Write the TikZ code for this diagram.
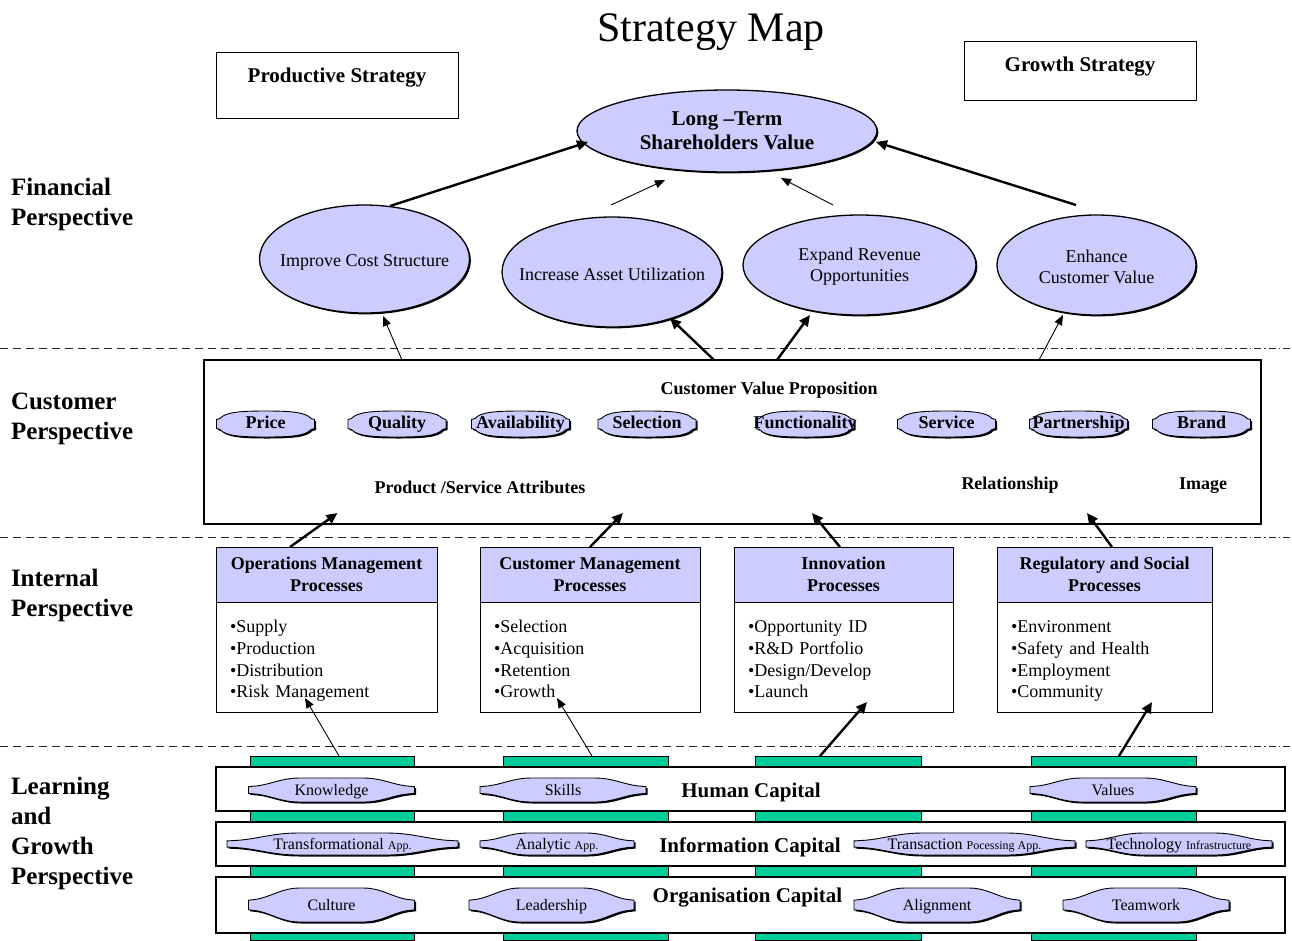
\documentclass[tikz,border=0pt]{standalone}
\usepackage{fontspec}
\setmainfont{Liberation Serif}
\usetikzlibrary{arrows.meta,calc,shapes.geometric,shadows}

\definecolor{lav}{RGB}{204,204,255}
\definecolor{capgreen}{RGB}{0,204,153}

\newcommand\fs[2]{\fontsize{#1}{#2}\selectfont}
\newcommand\topgap{\rule{0pt}{21.5pt}}
\newcommand\botgap{\rule[-5pt]{0pt}{5pt}}

% unit outlines for the small value shapes
\def\rbpath{(-1,-0.35) -- (-1,0.35) -- (-0.93,0.42) .. controls (-0.82,0.92) and (-0.5,1) .. (0,1) .. controls (0.5,1) and (0.82,0.92) .. (0.93,0.42) -- (1,0.35) -- (1,-0.35) -- (0.93,-0.42) .. controls (0.82,-0.92) and (0.5,-1) .. (0,-1) .. controls (-0.5,-1) and (-0.82,-0.92) .. (-0.93,-0.42) -- cycle}
\def\fbpath{(-1,-0.28) -- (-1,0.28) -- (-0.9,0.34) .. controls (-0.72,0.5) and (-0.6,1) .. (-0.38,1) -- (0.38,1) .. controls (0.6,1) and (0.72,0.5) .. (0.9,0.34) -- (1,0.28) -- (1,-0.28) -- (0.9,-0.34) .. controls (0.72,-0.5) and (0.6,-1) .. (0.38,-1) -- (-0.38,-1) .. controls (-0.6,-1) and (-0.72,-0.5) .. (-0.9,-0.34) -- cycle}

% #1 outline, #2 #3 centre, #4 #5 half width and half height
\newcommand\blobshape[5]{%
  \begin{scope}[shift={(#2+1.5,#3+1.5)},xscale=#4,yscale=#5]\fill[black] #1;\end{scope}
  \begin{scope}[shift={(#2,#3)},xscale=#4,yscale=#5]\filldraw[fill=lav,draw=black,line width=0.9pt] #1;\end{scope}}

\begin{document}
\begin{tikzpicture}[x=1pt,y=-1pt,
  every node/.style={inner sep=0pt,outer sep=0pt},
  sect/.style={font=\fs{25}{30}\bfseries,align=left,anchor=north west},
  boldlbl/.style={font=\fs{21}{25}\bfseries,anchor=base},
  midlbl/.style={font=\fs{18}{21}\bfseries,anchor=base},
  finell/.style={ellipse,draw=black,line width=1.3pt,fill=lav,
    drop shadow={shadow xshift=1.4pt,shadow yshift=-1.4pt,opacity=1,fill=black}},
  fintxt/.style={align=center,font=\fs{18}{21}},
  cvtxt/.style={font=\fs{18}{20}\bfseries,anchor=base},
  lgtxt/.style={font=\fs{16}{19},anchor=base},
  headbox/.style={draw,line width=1pt,fill=lav,align=center,minimum height=55,font=\fs{18}{22}\bfseries},
  bodybox/.style={draw,line width=1pt,align=left,minimum height=110,inner xsep=14pt,font=\fs{18}{21.8}},
  gbar/.style={draw=black,line width=0.6pt,fill=capgreen,minimum height=184},
  rowbox/.style={draw,line width=1.1pt,fill=white,minimum width=1069},
  sepdash/.style={line width=0.8pt,black!85,dash pattern=on 8pt off 5pt},
  sepdot/.style={line width=0.8pt,black!85,dash pattern=on 7pt off 3pt on 1.5pt off 3pt},
  thinarr/.style={line width=0.9pt,-{Triangle[length=10pt,width=8pt]}},
  thickarr/.style={line width=2.4pt,-{Triangle[length=11pt,width=10pt]}}]

\useasboundingbox (0,0) rectangle (1292,940);

% perspective separators
\draw[sepdash] (0,348) -- (790,348);  \draw[sepdot] (790,348) -- (1292,348);
\draw[sepdash] (0,537) -- (790,537);  \draw[sepdot] (790,537) -- (1292,537);
\draw[sepdash] (0,746) -- (790,746);  \draw[sepdot] (790,746) -- (1292,746);

% perspective names
\node[sect] (pfin) at (11,178) {Financial\\Perspective};
\node[sect] (pcus) at (11,393) {Customer\\Perspective};
\node[sect] (pint) at (11,569) {Internal\\Perspective};
\node[sect] (plg)  at (11,777) {Learning\\and\\Growth\\Perspective};

% heading and strategy boxes
\node[font=\fs{42}{48},anchor=base] (title) at (711,41) {Strategy Map};
\node[draw,line width=1pt,minimum width=242,minimum height=66] (prodbox) at (337,85) {};
\node[boldlbl] (prodlbl) at (337,82) {Productive Strategy};
\node[draw,line width=1pt,minimum width=232,minimum height=59] (growbox) at (1080,70.5) {};
\node[boldlbl] (growlbl) at (1080,71) {Growth Strategy};

% financial perspective
\node[finell,minimum width=300,minimum height=82,
  label={[fintxt,font=\fs{21}{24}\bfseries]center:Long –Term\\Shareholders Value}] (lt) at (727,131) {};
\node[finell,minimum width=210,minimum height=108,
  label={[fintxt,yshift=-3pt]center:Improve Cost Structure}] (icost) at (364.5,259) {};
\node[finell,minimum width=220,minimum height=110,
  label={[fintxt,yshift=-2pt]center:Increase Asset Utilization}] (iasset) at (612,272) {};
\node[finell,minimum width=233,minimum height=100,
  label={[fintxt,yshift=-2pt]center:Expand Revenue\\Opportunities}] (erev) at (859.5,265) {};
\node[finell,minimum width=199,minimum height=100,
  label={[fintxt,yshift=-2pt]center:Enhance\\Customer Value}] (ecust) at (1096.5,265) {};

\draw[thickarr] ($(icost.center)+(25.5,-53)$) -- ($(lt.center)+(-139,11)$);
\draw[thinarr]  ($(iasset.center)+(-1,-67)$) -- ($(lt.center)+(-62,49)$);
\draw[thinarr]  ($(erev.center)+(-26.5,-60)$) -- ($(lt.center)+(54,47)$);
\draw[thickarr] ($(ecust.center)+(-20.5,-60)$) -- ($(lt.center)+(149,11)$);

% customer perspective
\node[draw,line width=1.2pt,minimum width=1057,minimum height=164] (custbox) at (732.5,442) {};
\node[midlbl] (cvp) at (769,394) {Customer Value Proposition};
\node[midlbl] (psattr) at (480,493) {Product /Service Attributes};
\node[midlbl] (relat) at (1010,489) {Relationship};
\node[midlbl] (image) at (1203,489) {Image};

\blobshape{\rbpath}{265.5}{424}{49}{13}
\blobshape{\rbpath}{397}{424}{49}{13}
\blobshape{\rbpath}{520.5}{424}{49}{13}
\blobshape{\rbpath}{647}{424}{49}{13}
\blobshape{\rbpath}{805}{424}{49}{13}
\blobshape{\rbpath}{946.5}{424}{49}{13}
\blobshape{\rbpath}{1078.5}{424}{49}{13}
\blobshape{\rbpath}{1201.5}{424}{49}{13}
\node[cvtxt] (price) at (265.5,428) {Price};
\node[cvtxt] (quality) at (397,428) {Quality};
\node[cvtxt] (avail) at (520.5,428) {Availability};
\node[cvtxt] (select) at (647,428) {Selection};
\node[cvtxt] (funct) at (805,428) {Functionality};
\node[cvtxt] (service) at (946.5,428) {Service};
\node[cvtxt] (partner) at (1078.5,428) {Partnership};
\node[cvtxt] (brand) at (1201.5,428) {Brand};

\draw[thinarr]  ($(custbox.north west)+(198,0)$) -- ($(icost.center)+(18.5,57)$);
\draw[thickarr] ($(custbox.north west)+(510,0)$) -- ($(iasset.center)+(58,46)$);
\draw[thickarr] ($(custbox.north west)+(573,0)$) -- ($(erev.center)+(-49.5,50)$);
\draw[thinarr]  ($(custbox.north west)+(835,0)$) -- ($(ecust.center)+(-33.5,50)$);

% internal perspective
\node[headbox,minimum width=221] (opshead) at (326.5,574.5) {Operations Management\\Processes};
\node[bodybox,text width=193] (opsbody) at (326.5,657) {\topgap•Supply\\•Production\\•Distribution\\•Risk Management\botgap};
\node[headbox,minimum width=220] (cmhead) at (590,574.5) {Customer Management\\Processes};
\node[bodybox,text width=192] (cmbody) at (590,657) {\topgap•Selection\\•Acquisition\\•Retention\\•Growth\botgap};
\node[headbox,minimum width=219] (inhead) at (843.5,574.5) {Innovation\\Processes};
\node[bodybox,text width=191] (inbody) at (843.5,657) {\topgap•Opportunity ID\\•R\&D Portfolio\\•Design/Develop\\•Launch\botgap};
\node[headbox,minimum width=215] (rghead) at (1104.5,574.5) {Regulatory and Social\\Processes};
\node[bodybox,text width=187] (rgbody) at (1104.5,657) {\topgap•Environment\\•Safety and Health\\•Employment\\•Community\botgap};

\draw[thickarr] ($(opshead.north west)+(74,0)$) -- ($(custbox.south west)+(133.5,-11)$);
\draw[thickarr] ($(cmhead.north west)+(110,0)$) -- ($(custbox.south west)+(419,-11)$);
\draw[thickarr] ($(inhead.north west)+(106,0)$) -- ($(custbox.south west)+(608,-11)$);
\draw[thickarr] ($(rghead.north west)+(115,0)$) -- ($(custbox.south west)+(883,-11)$);

% learning and growth perspective
\node[gbar,minimum width=164] (g1) at (332,848) {};
\node[gbar,minimum width=165] (g2) at (585.5,848) {};
\node[gbar,minimum width=166] (g3) at (838,848) {};
\node[gbar,minimum width=165] (g4) at (1113.5,848) {};

\node[rowbox,minimum height=44] (humrow) at (750.5,789) {};
\node[rowbox,minimum height=44] (infrow) at (750.5,844) {};
\node[rowbox,minimum height=56] (orgrow) at (750.5,905) {};

\node[boldlbl] (humlbl) at (751,797) {Human Capital};
\node[boldlbl] (inflbl) at (750,852) {Information Capital};
\node[boldlbl] (orglbl) at (747.5,902) {Organisation Capital};

\blobshape{\fbpath}{331.5}{790}{83}{12}
\blobshape{\fbpath}{563}{790}{83}{12}
\blobshape{\fbpath}{1113}{790}{83}{12}
\blobshape{\fbpath}{342.5}{844}{115.5}{11}
\blobshape{\fbpath}{557}{844}{77}{11}
\blobshape{\fbpath}{964.5}{844}{110.5}{11}
\blobshape{\fbpath}{1179}{844}{93}{11}
\blobshape{\fbpath}{331.5}{905}{83}{17}
\blobshape{\fbpath}{551.5}{905}{82.5}{17}
\blobshape{\fbpath}{937}{905}{83}{17}
\blobshape{\fbpath}{1146}{905}{83}{17}

\node[lgtxt] (knowl) at (331.5,795) {Knowledge};
\node[lgtxt] (skills) at (563,795) {Skills};
\node[lgtxt] (values) at (1113,795) {Values};
\node[lgtxt] (transf) at (342.5,849) {Transformational {\fs{12}{14}App.}};
\node[lgtxt] (analyt) at (557,849) {Analytic {\fs{12}{14}App.}};
\node[lgtxt] (transa) at (964.5,849) {Transaction {\fs{12}{14}Pocessing App.}};
\node[lgtxt] (techin) at (1179,849) {Technology {\fs{12}{14}Infrastructure}};
\node[lgtxt] (cultur) at (331.5,910) {Culture};
\node[lgtxt] (leader) at (551.5,910) {Leadership};
\node[lgtxt] (align) at (937,910) {Alignment};
\node[lgtxt] (teamw) at (1146,910) {Teamwork};

\draw[thinarr]  ($(g1.north west)+(89,0)$) -- ($(opsbody.south west)+(89,-14)$);
\draw[thinarr]  ($(g2.north west)+(89,0)$) -- ($(cmbody.south west)+(77,-14)$);
\draw[thickarr] ($(g3.north west)+(65,0)$) -- ($(inbody.south west)+(133,-10)$);
\draw[thickarr] ($(g4.north west)+(88,0)$) -- ($(rgbody.south west)+(155,-10)$);

\end{tikzpicture}
\end{document}
